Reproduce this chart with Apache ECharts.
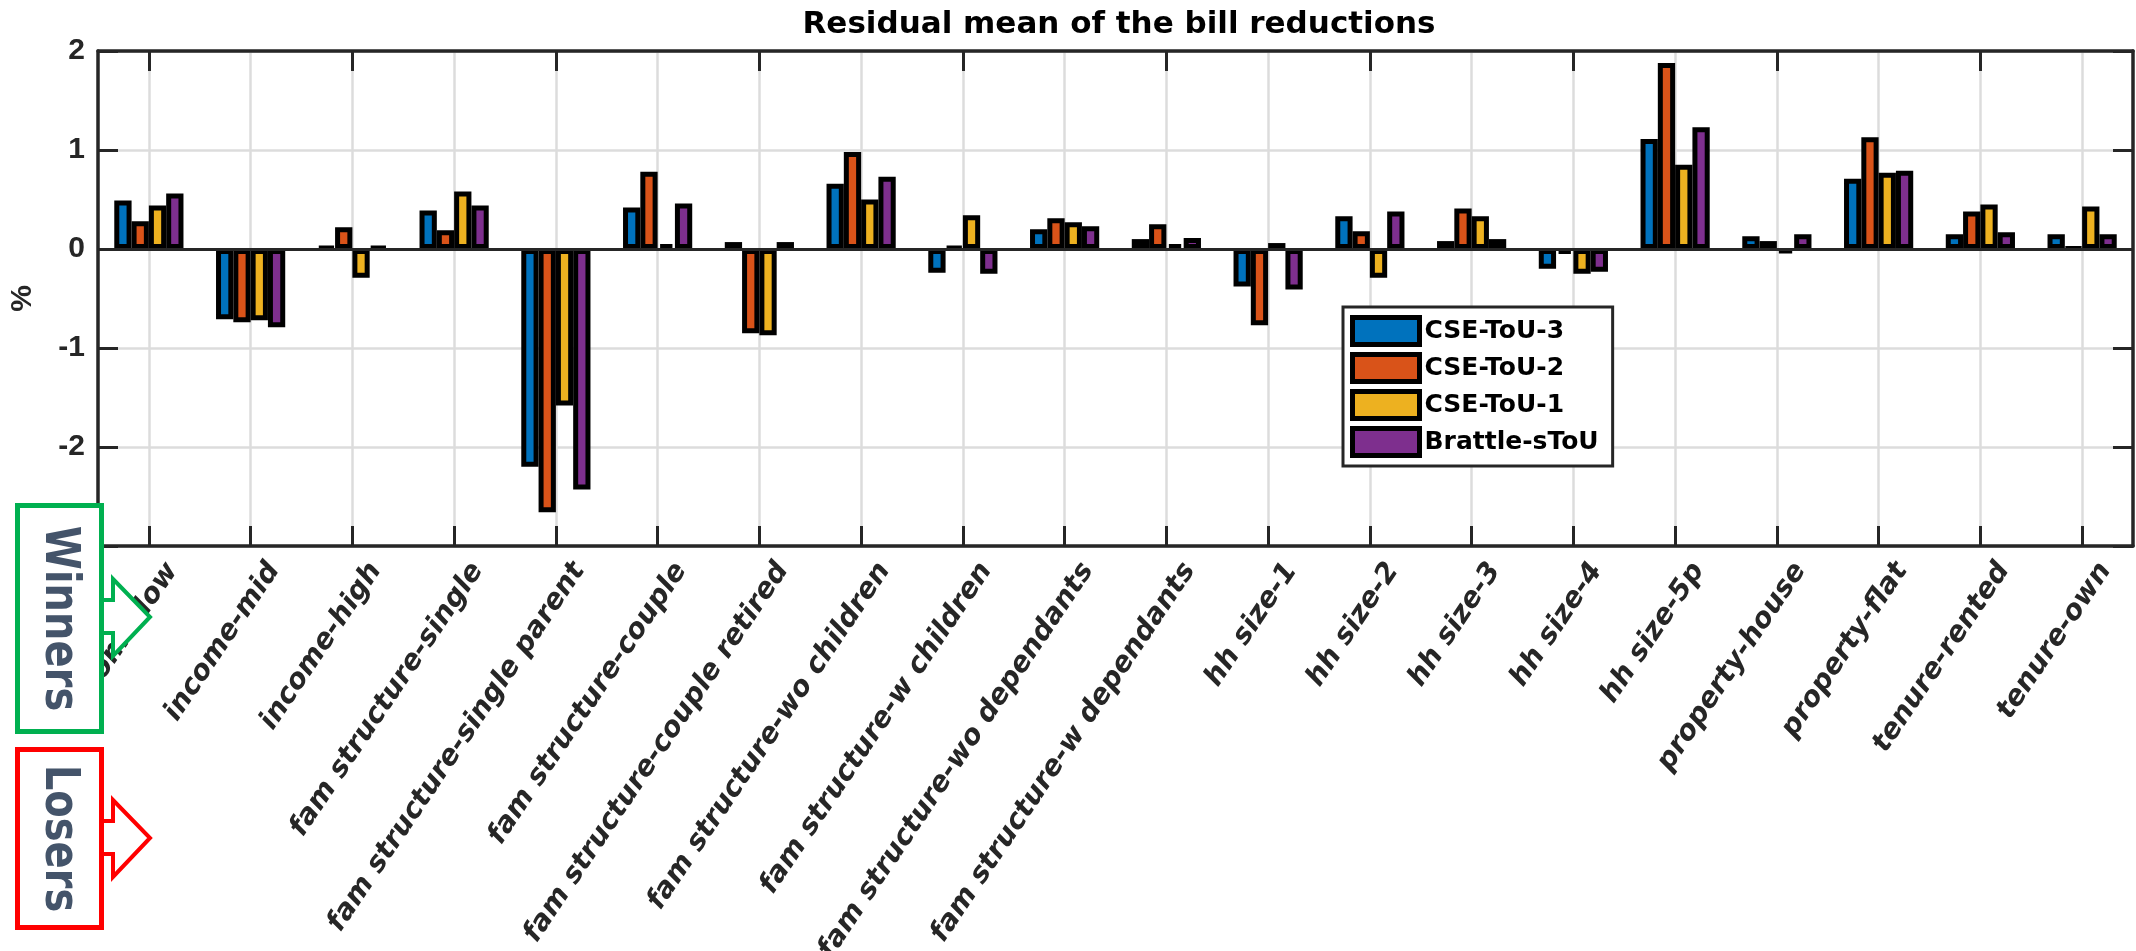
<!DOCTYPE html>
<html>
<head>
<meta charset="utf-8">
<script src="https://cdn.jsdelivr.net/npm/echarts@6/dist/echarts.min.js"></script>
<style>
  html, body { margin: 0; padding: 0; background: #fff; }
  #chart { width: 2136px; height: 951px; }
</style>
</head>
<body>
<div id="chart"></div>
<script>
const categories = [
  'income-low', 'income-mid', 'income-high',
  'fam structure-single', 'fam structure-single parent', 'fam structure-couple',
  'fam structure-couple retired', 'fam structure-wo children', 'fam structure-w children',
  'fam structure-wo dependants', 'fam structure-w dependants',
  'hh size-1', 'hh size-2', 'hh size-3', 'hh size-4', 'hh size-5p',
  'property-house', 'property-flat', 'tenure-rented', 'tenure-own'
];

// residual mean of the bill reduction, %
const cseTou3 = [0.49, -0.71, 0.02, 0.39, -2.20, 0.42, 0.07, 0.66, -0.24, 0.20, 0.10, -0.38, 0.33, 0.08, -0.20, 1.11, 0.13, 0.71, 0.15, 0.15];
const cseTou2 = [0.28, -0.74, 0.22, 0.19, -2.66, 0.78, -0.85, 0.98, 0.02, 0.31, 0.25, -0.77, 0.18, 0.41, -0.05, 1.88, 0.08, 1.13, 0.38, 0.01];
const cseTou1 = [0.44, -0.72, -0.29, 0.58, -1.58, 0.05, -0.87, 0.50, 0.34, 0.27, 0.05, 0.06, -0.29, 0.33, -0.25, 0.85, -0.04, 0.77, 0.45, 0.43];
const brattle = [0.56, -0.79, 0.02, 0.44, -2.43, 0.46, 0.07, 0.73, -0.25, 0.23, 0.11, -0.41, 0.38, 0.10, -0.23, 1.23, 0.15, 0.79, 0.17, 0.15];

const seriesNames = ['CSE-ToU-3', 'CSE-ToU-2', 'CSE-ToU-1', 'Brattle-sToU'];
const seriesData = [cseTou3, cseTou2, cseTou1, brattle];
const COLORS = ['#0072BD', '#D95319', '#EDB120', '#7E2F8E'];

const yTicks = { min: -3, max: 2, interval: 1 };

const AXIS_COLOR = '#262626';
const GRID_COLOR = '#dcdcdc';
const FONT = 'DejaVu Sans';

const chart = echarts.init(document.getElementById('chart'));

const series = seriesNames.map((name, i) => ({
  name: name,
  type: 'bar',
  data: seriesData[i],
  barGap: '0%',
  barCategoryGap: '32%',
  itemStyle: {
    color: COLORS[i],
    borderColor: '#000',
    borderWidth: 5
  },
  markLine: i === 0 ? {
    silent: true,
    symbol: 'none',
    label: { show: false },
    lineStyle: { color: AXIS_COLOR, width: 3, type: 'solid' },
    data: [{ yAxis: 0 }]
  } : undefined
}));

// Winners / Losers callouts drawn over the left edge
function callout(top, bottom, arrowY, color, text) {
  const cy = (top + bottom) / 2;
  return [
    {
      type: 'polygon', z: 100,
      shape: { points: [[100, arrowY - 17], [113, arrowY - 17], [113, arrowY - 38], [150, arrowY], [113, arrowY + 39], [113, arrowY + 16], [100, arrowY + 16]] },
      style: { fill: '#fff', stroke: color, lineWidth: 4 }
    },
    {
      type: 'rect', z: 101,
      shape: { x: 17.5, y: top + 2.5, width: 84, height: bottom - top - 5 },
      style: { fill: '#fff', stroke: color, lineWidth: 5 }
    },
    {
      type: 'text', z: 102,
      x: 58.5, y: cy, rotation: -Math.PI / 2, scaleY: 1.2,
      style: { text: text, fill: '#44546A', font: 'bold 40px "DejaVu Sans"', textAlign: 'center', textVerticalAlign: 'middle' }
    }
  ];
}

const option = {
  backgroundColor: '#fff',
  animation: false,
  title: {
    text: 'Residual mean of the bill reductions',
    left: 1114,
    top: 4,
    textAlign: 'center',
    textStyle: { fontFamily: FONT, fontWeight: 'bold', fontSize: 31, color: '#000' }
  },
  legend: {
    data: seriesNames,
    orient: 'vertical',
    left: 1343,
    top: 307,
    icon: 'rect',
    itemWidth: 67,
    itemHeight: 27,
    itemGap: 5,
    padding: [8, 14, 8, 7],
    backgroundColor: '#fff',
    borderColor: AXIS_COLOR,
    borderWidth: 3,
    borderRadius: 0,
    itemStyle: { borderColor: '#000', borderWidth: 5 },
    textStyle: { fontFamily: FONT, fontWeight: 'bold', fontSize: 25, color: '#000' }
  },
  grid: { left: 98, right: 3, top: 51, bottom: 405, containLabel: false, outerBoundsMode: 'none' },
  xAxis: [
    {
      type: 'category',
      data: categories,
      position: 'bottom',
      axisLine: { show: true, onZero: false, lineStyle: { color: AXIS_COLOR, width: 3.5 } },
      axisTick: { show: true, inside: true, alignWithLabel: true, length: 20, lineStyle: { color: AXIS_COLOR, width: 3 } },
      splitLine: { show: true, alignWithLabel: true, lineStyle: { color: GRID_COLOR, width: 2.5 } },
      axisLabel: {
        interval: 0,
        rotate: 56,
        margin: 4,
        // empty first line pushes the rotated text down-right, as in the original
        formatter: (v) => '{gap| }\n{t|' + v + '}',
        rich: {
          gap: { lineHeight: 56, fontSize: 10 },
          t: {
            color: AXIS_COLOR,
            fontFamily: FONT,
            fontWeight: 'bold',
            fontStyle: 'italic',
            fontSize: 28,
            lineHeight: 34
          }
        }
      }
    },
    {
      type: 'category',
      data: categories,
      position: 'top',
      axisLine: { show: true, onZero: false, lineStyle: { color: AXIS_COLOR, width: 3.5 } },
      axisTick: { show: true, inside: true, alignWithLabel: true, length: 20, lineStyle: { color: AXIS_COLOR, width: 3 } },
      splitLine: { show: false },
      axisLabel: { show: false }
    }
  ],
  yAxis: [
    {
      type: 'value',
      min: yTicks.min,
      max: yTicks.max,
      interval: yTicks.interval,
      name: '%',
      nameLocation: 'middle',
      nameRotate: 90,
      nameGap: 60,
      nameTextStyle: { fontFamily: 'Liberation Sans', fontWeight: 'bold', fontSize: 30, color: AXIS_COLOR },
      axisLine: { show: true, lineStyle: { color: AXIS_COLOR, width: 3.5 } },
      axisTick: { show: true, inside: true, length: 20, lineStyle: { color: AXIS_COLOR, width: 3 } },
      splitLine: { show: true, lineStyle: { color: GRID_COLOR, width: 2.5 } },
      axisLabel: { margin: 13, color: AXIS_COLOR, fontFamily: 'Liberation Sans', fontWeight: 'bold', fontSize: 30 }
    },
    {
      type: 'value',
      position: 'right',
      min: yTicks.min,
      max: yTicks.max,
      interval: yTicks.interval,
      axisLine: { show: true, lineStyle: { color: AXIS_COLOR, width: 3.5 } },
      axisTick: { show: true, inside: true, length: 20, lineStyle: { color: AXIS_COLOR, width: 3 } },
      splitLine: { show: false },
      axisLabel: { show: false }
    }
  ],
  graphic: [
    ...callout(503, 734, 617, '#00B050', 'Winners'),
    ...callout(747, 930, 838, '#FF0000', 'Losers')
  ],
  series: series
};

chart.setOption(option);
window.addEventListener('resize', () => chart.resize());
</script>
</body>
</html>
